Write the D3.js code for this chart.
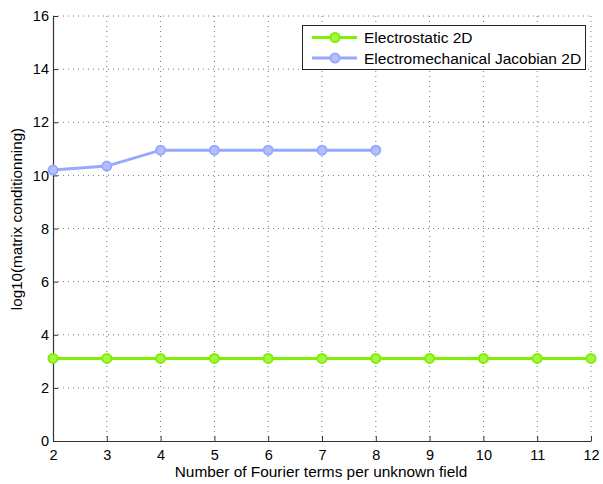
<!DOCTYPE html>
<html>
<head>
<meta charset="utf-8">
<script src="https://cdn.jsdelivr.net/npm/d3@7"></script>
<style>
body { margin: 0; background: #fff; }
text { font-family: "Liberation Sans", Arial, Helvetica, sans-serif; fill: #000; }
</style>
</head>
<body>
<div id="chart"></div>
<script>
// number of Fourier terms
var termsElectrostatic = [2, 3, 4, 5, 6, 7, 8, 9, 10, 11, 12];
var condElectrostatic = [3.11, 3.11, 3.11, 3.11, 3.11, 3.11, 3.11, 3.11, 3.11, 3.11, 3.11];
var termsJacobian = [2, 3, 4, 5, 6, 7, 8];
var condJacobian = [10.2, 10.35, 10.95, 10.95, 10.95, 10.95, 10.95];
var xTicks = [2, 3, 4, 5, 6, 7, 8, 9, 10, 11, 12];
var yTicks = [0, 2, 4, 6, 8, 10, 12, 14, 16];
var seriesNames = ["Electrostatic 2D", "Electromechanical Jacobian 2D"];

var w = 603, h = 484;
var pLeft = 53, pRight = 591, pTop = 16, pBottom = 441;
var colors = ["#80f000", "#97a8ff"];
var fills = ["#a6f54d", "#b3c0ff"];

var svg = d3.select("#chart").append("svg").attr("width", w).attr("height", h);

var xScale = d3.scaleLinear().domain([2, 12]).range([pLeft, pRight]);
var yScale = d3.scaleLinear().domain([0, 16]).range([pBottom, pTop]);

// dotted grid
svg.append("g").selectAll("line").data(xTicks.slice(1)).enter().append("line")
    .attr("x1", function(d) { return xScale(d); })
    .attr("x2", function(d) { return xScale(d); })
    .attr("y1", pTop).attr("y2", pBottom)
    .attr("stroke", "#555").attr("stroke-width", 0.8).attr("stroke-dasharray", "1,4");
svg.append("g").selectAll("line").data(yTicks.slice(1)).enter().append("line")
    .attr("y1", function(d) { return yScale(d); })
    .attr("y2", function(d) { return yScale(d); })
    .attr("x1", pLeft).attr("x2", pRight)
    .attr("stroke", "#555").attr("stroke-width", 0.8).attr("stroke-dasharray", "1,4");

// axes, ticks go inward
var xAxis = d3.axisBottom(xScale).tickValues(xTicks).tickSizeInner(-5).tickSizeOuter(0).tickPadding(9);
var yAxis = d3.axisLeft(yScale).tickValues(yTicks).tickSizeInner(-5).tickSizeOuter(0).tickPadding(4);

var gx = svg.append("g").attr("transform", "translate(0," + pBottom + ")").call(xAxis);
var gy = svg.append("g").attr("transform", "translate(" + pLeft + ",0)").call(yAxis);
[gx, gy].forEach(function(g) {
    g.select(".domain").attr("stroke", "#333").attr("stroke-width", 1.2);
    g.selectAll(".tick line").attr("stroke", "#333");
    g.selectAll("text").style("font-size", "14.5px").attr("fill", "#000");
});

svg.append("text")
    .attr("x", 321).attr("y", 477)
    .attr("text-anchor", "middle").style("font-size", "15.4px")
    .text("Number of Fourier terms per unknown field");

svg.append("text")
    .attr("transform", "translate(22,219) rotate(-90)")
    .attr("text-anchor", "middle").style("font-size", "15.2px")
    .text("log10(matrix conditionning)");

// lines
var series = [
    { xs: termsElectrostatic, ys: condElectrostatic },
    { xs: termsJacobian, ys: condJacobian }
];
var line = d3.line()
    .x(function(d) { return xScale(d[0]); })
    .y(function(d) { return yScale(d[1]); });

series.forEach(function(s, i) {
    var pts = s.xs.map(function(x, j) { return [x, s.ys[j]]; });
    svg.append("path").datum(pts).attr("d", line)
        .attr("fill", "none").attr("stroke", colors[i]).attr("stroke-width", 3);
    svg.append("g").selectAll("circle").data(pts).enter().append("circle")
        .attr("cx", function(d) { return xScale(d[0]); })
        .attr("cy", function(d) { return yScale(d[1]); })
        .attr("r", 4.5)
        .attr("fill", fills[i]).attr("stroke", colors[i]).attr("stroke-width", 2);
});

// legend
var lg = svg.append("g");
lg.append("rect").attr("x", 302.5).attr("y", 25.5).attr("width", 283).attr("height", 44)
    .attr("fill", "#fff").attr("stroke", "#222").attr("stroke-width", 1);
seriesNames.forEach(function(name, i) {
    var yy = 37.5 + i * 20.5;
    lg.append("line").attr("x1", 312).attr("x2", 357).attr("y1", yy).attr("y2", yy)
        .attr("stroke", colors[i]).attr("stroke-width", 3);
    lg.append("circle").attr("cx", 335).attr("cy", yy).attr("r", 4.5)
        .attr("fill", fills[i]).attr("stroke", colors[i]).attr("stroke-width", 2);
    lg.append("text").attr("x", 364).attr("y", yy + 5.5).style("font-size", "15.5px").text(name);
});
</script>
</body>
</html>
